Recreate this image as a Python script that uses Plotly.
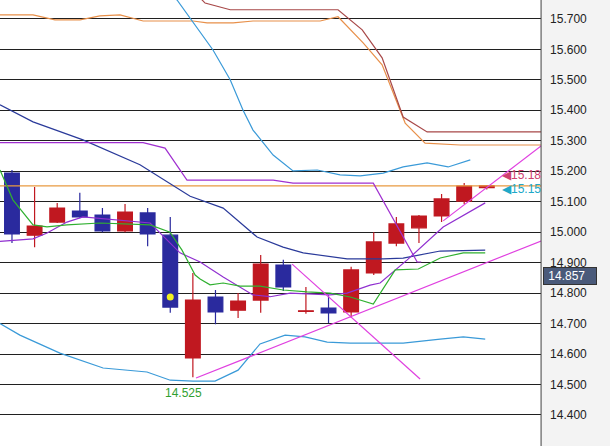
import plotly.graph_objects as go

# Candles (index 0..21)
opens  = [15.194, 14.990, 15.033, 15.069, 15.056, 15.004, 15.063, 14.990, 14.587, 14.787, 14.744, 14.777, 14.892, 14.740, 14.751, 14.738, 14.866, 14.964, 15.014, 15.053, 15.102, 15.146]
highs  = [15.204, 15.148, 15.096, 15.129, 15.079, 15.092, 15.079, 15.050, 14.866, 14.810, 14.800, 14.925, 14.909, 14.820, 14.793, 14.886, 15.000, 15.050, 15.056, 15.125, 15.161, 15.155]
lows   = [14.964, 14.950, 15.030, 15.046, 15.000, 15.000, 14.954, 14.735, 14.524, 14.698, 14.718, 14.735, 14.807, 14.732, 14.702, 14.720, 14.859, 14.954, 14.964, 15.033, 15.092, 15.140]
closes = [14.994, 15.020, 15.079, 15.050, 15.004, 15.066, 14.994, 14.754, 14.777, 14.738, 14.774, 14.895, 14.820, 14.742, 14.735, 14.876, 14.968, 15.027, 15.053, 15.109, 15.151, 15.152]

# Indicator lines (x in bar-index units, y in price)
orange_x = [-0.53, 0.93, 1.90, 3.01, 3.89, 4.78, 5.80, 8.01, 8.63, 9.78, 10.66, 13.63, 14.42, 15.53, 16.37, 17.39, 18.27, 19.82, 23.4]
orange_y = [15.713, 15.713, 15.697, 15.697, 15.710, 15.713, 15.693, 15.693, 15.687, 15.687, 15.693, 15.693, 15.707, 15.621, 15.549, 15.358, 15.292, 15.286, 15.286]
brown_x = [8.32, 8.54, 9.65, 14.42, 15.49, 16.37, 17.30, 18.36, 23.4]
brown_y = [15.769, 15.752, 15.730, 15.730, 15.664, 15.572, 15.378, 15.329, 15.329]
upper_x = [6.99, 7.30, 8.89, 9.65, 10.22, 10.66, 11.55, 12.43, 13.50, 14.51, 15.40, 16.42, 17.30, 18.36, 19.29, 20.27]
upper_y = [15.78, 15.762, 15.598, 15.500, 15.400, 15.335, 15.253, 15.201, 15.204, 15.188, 15.185, 15.194, 15.214, 15.227, 15.214, 15.237]
lower_x = [-0.53, 0.35, 2.12, 4.03, 5.97, 7.00, 8.01, 8.98, 10.00, 10.97, 12.08, 12.96, 13.94, 14.96, 15.84, 17.30, 18.94, 19.96, 20.93]
lower_y = [14.700, 14.662, 14.603, 14.554, 14.541, 14.514, 14.511, 14.511, 14.547, 14.633, 14.662, 14.656, 14.639, 14.636, 14.636, 14.636, 14.649, 14.656, 14.649]
navy_x = [-0.53, 0.93, 3.14, 5.66, 7.88, 9.34, 10.84, 11.99, 12.88, 14.82, 15.84, 16.42, 17.30, 18.94, 20.93]
navy_y = [15.418, 15.362, 15.303, 15.221, 15.118, 15.079, 14.984, 14.951, 14.932, 14.912, 14.912, 14.912, 14.915, 14.938, 14.941]
purple_x = [-0.53, 5.80, 6.77, 7.74, 11.55, 12.43, 15.49, 15.98, 17.92, 18.10]
purple_y = [15.294, 15.294, 15.276, 15.171, 15.171, 15.161, 15.161, 15.161, 14.902, 14.902]
violet_x = [-0.53, 0.93, 1.55, 2.43, 3.14, 6.11, 7.43, 8.32, 9.34, 10.66, 11.42, 12.30, 14.07, 14.82, 15.84, 16.28, 17.48, 19.07, 20.93]
violet_y = [14.970, 14.978, 14.997, 15.033, 15.050, 15.030, 14.932, 14.902, 14.853, 14.794, 14.788, 14.800, 14.794, 14.800, 14.826, 14.833, 14.909, 15.017, 15.096]
green_x = [-0.53, 0.04, 0.93, 1.55, 2.43, 3.89, 6.11, 6.99, 7.52, 8.10, 8.32, 8.76, 9.34, 10.09, 10.97, 11.99, 13.05, 14.07, 14.96, 15.84, 15.98, 16.95, 17.97, 18.94, 19.96, 20.93]
green_y = [15.204, 15.106, 15.024, 15.017, 15.024, 15.030, 15.024, 15.000, 14.941, 14.859, 14.846, 14.827, 14.833, 14.823, 14.823, 14.810, 14.804, 14.800, 14.787, 14.768, 14.764, 14.876, 14.879, 14.915, 14.932, 14.932]
pink_up_x = [8.14, 23.4]
pink_up_y = [14.521, 14.971]
pink_top_x = [19.07, 23.4]
pink_top_y = [15.037, 15.283]
pink_down_x = [12.39, 18.05]
pink_down_y = [14.895, 14.518]
level_y = 15.152

ticks = [15.7, 15.6, 15.5, 15.4, 15.3, 15.2, 15.1, 15.0, 14.9, 14.8, 14.7, 14.6, 14.5, 14.4, 14.3]
last_price = 14.857

fig = go.Figure()
def line(x, y, c, w=1.2):
    fig.add_trace(go.Scatter(x=x, y=y, mode="lines", line=dict(color=c, width=w), hoverinfo="skip"))

fig.add_trace(go.Scatter(x=[-0.53, 23.4], y=[level_y, level_y], mode="lines", line=dict(color="#e89a40", width=1.2)))
line(orange_x, orange_y, "#e8904a")
line(brown_x, brown_y, "#a84848")
line(upper_x, upper_y, "#3a9ad8")
line(lower_x, lower_y, "#3a9ad8")
line(navy_x, navy_y, "#2a3a9a")
line(purple_x, purple_y, "#a030d0")
line(violet_x, violet_y, "#9030d0")
line(green_x, green_y, "#30b030")
line(pink_up_x, pink_up_y, "#e040e0")
line(pink_top_x, pink_top_y, "#e040e0")
line(pink_down_x, pink_down_y, "#e040e0")

fig.add_trace(go.Candlestick(
    x=list(range(len(opens))), open=opens, high=highs, low=lows, close=closes,
    increasing=dict(line=dict(color="#c01820", width=1.2), fillcolor="#c01820"),
    decreasing=dict(line=dict(color="#2a2a9e", width=1.2), fillcolor="#2a2a9e"),
    whiskerwidth=0))
fig.add_trace(go.Scatter(x=[7], y=[14.787], mode="markers", marker=dict(color="#f0f020", size=7)))

fig.update_layout(
    width=610, height=446, margin=dict(l=0, r=0, t=0, b=0, autoexpand=False),
    paper_bgcolor="#f3f3f3", plot_bgcolor="white", showlegend=False, boxgap=0.07,
    xaxis=dict(domain=[0, 0.887], range=[-0.53, 23.4], showgrid=False, zeroline=False,
               showticklabels=False, rangeslider=dict(visible=False), showline=False,
               automargin=False),
    yaxis=dict(side="right", range=[14.298, 15.762], tickvals=ticks, tickformat=".3f",
               showgrid=True, gridcolor="#202020", gridwidth=1, zeroline=False,
               ticks="", ticklabelstandoff=8, automargin=False,
               tickfont=dict(family="Liberation Sans, Arial", size=12, color="#222")),
    font=dict(family="Liberation Sans, Arial"),
)
fig.add_shape(type="line", xref="paper", yref="paper", x0=0.887, x1=0.887, y0=0, y1=1,
              line=dict(color="#404040", width=1))
fig.add_annotation(x=7.6, y=14.5, text="14.525", showarrow=False, yanchor="top",
                   font=dict(color="#30a030", size=12))
fig.add_annotation(x=21.6, y=15.18, xanchor="left", text="◀15.18", showarrow=False,
                   yshift=2, font=dict(color="#d04070", size=12))
fig.add_annotation(x=21.6, y=15.15, xanchor="left", text="◀15.15", showarrow=False,
                   yshift=-3, font=dict(color="#20a8c8", size=12))
fig.add_annotation(xref="paper", x=0.89, y=last_price, xanchor="left", text=" %.3f   " % last_price,
                   showarrow=False, bgcolor="#4a5a7a", bordercolor="#333", borderwidth=1,
                   font=dict(color="white", size=12))
fig.write_html("out.html", config={"displayModeBar": False},
               post_script="document.body.style.margin='0';document.body.style.overflow='hidden';")
